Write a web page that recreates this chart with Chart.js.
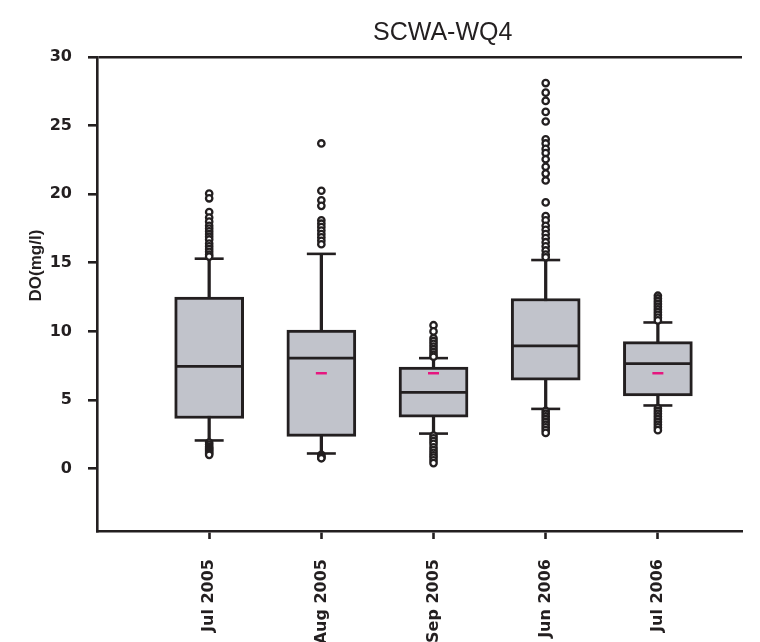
<!DOCTYPE html>
<html lang="en">
<head>
  <meta charset="UTF-8">
  <title>SCWA-WQ4</title>
  <script src="https://cdn.jsdelivr.net/npm/chart.js"></script>
  <style>
    body { margin: 0; background: #fff; }
    .chart-container { width: 760px; height: 642px; }
  </style>
</head>
<body>
<div class="chart-container">
  <canvas id="boxChart"></canvas>
</div>
<script>
  // Categories (sampling periods)
  const categories = ["Jul 2005", "Aug 2005", "Sep 2005", "Jun 2006", "Jul 2006"];
  const yTicks = [0, 5, 10, 15, 20, 25, 30];

  // Box statistics, DO in mg/l
  const q1 = [3.65, 2.35, 3.75, 6.45, 5.3];
  const medians = [7.45, 8.05, 5.55, 8.95, 7.65];
  const q3 = [12.5, 10.1, 7.4, 12.4, 9.25];
  const whiskerLow = [2.05, 1.1, 2.55, 4.35, 4.6];
  const whiskerHigh = [15.3, 15.65, 8.05, 15.2, 10.65];
  const means = [null, 6.95, 6.95, null, 6.95];

  // Outliers per category
  const outJul2005 = [20.05, 19.7, 18.7, 18.3, 18.0, 17.7, 17.5, 17.3, 17.1, 16.9, 16.7, 16.4, 16.2, 16.0, 15.8, 15.6, 15.45,
                      1.9, 1.75, 1.6, 1.5, 1.4, 1.3, 1.2, 1.1, 1.0];
  const outAug2005 = [23.7, 20.25, 19.55, 19.15, 18.1, 17.85, 17.6, 17.35, 17.1, 16.85, 16.6, 16.35,
                      1.0, 0.9, 0.8, 0.75];
  const outSep2005 = [10.45, 10.0, 9.5, 9.3, 9.1, 8.9, 8.7, 8.5, 8.3, 8.15,
                      2.4, 2.2, 2.0, 1.8, 1.55, 1.35, 1.15, 0.97, 0.8, 0.6, 0.4];
  const outJun2006 = [28.1, 27.4, 26.8, 26.0, 25.3, 24.0, 23.7, 23.3, 23.0, 22.55, 22.0, 21.5, 21.0, 19.4, 18.4, 18.1,
                      17.7, 17.4, 17.1, 16.8, 16.5, 16.2, 15.9, 15.6, 15.4,
                      4.2, 4.0, 3.8, 3.6, 3.4, 3.2, 3.0, 2.8, 2.6];
  const outJul2006 = [12.6, 12.4, 12.2, 12.0, 11.8, 11.6, 11.4, 11.2, 11.0, 10.8,
                      4.4, 4.2, 4.0, 3.8, 3.6, 3.4, 3.2, 3.0, 2.8];
  const outliers = [outJul2005, outAug2005, outSep2005, outJun2006, outJul2006];

  const dark = '#231f20';
  const boxFill = '#c1c3cb';
  const pink = '#e6167f';

  const pos = categories.map((c, i) => i + 1);
  const outlierPoints = [];
  outliers.forEach((list, i) => list.forEach(v => outlierPoints.push({ x: pos[i], y: v })));

  // chart title and y title sit off-centre in the original, so draw them by hand
  const titlesPlugin = {
    id: 'titles',
    afterDraw(chart) {
      const c = chart.ctx;
      const area = chart.chartArea;
      c.save();
      c.fillStyle = dark;
      c.textAlign = 'center';
      c.textBaseline = 'middle';
      c.font = '25px "Liberation Sans", Arial, sans-serif';
      c.fillText('SCWA-WQ4', area.left + (area.right - area.left) * 0.536, area.top - 24);
      c.translate(36, area.top + (area.bottom - area.top) * 0.44);
      c.rotate(-Math.PI / 2);
      c.font = 'bold 17px "Liberation Sans", Arial, sans-serif';
      c.fillText('DO(mg/l)', 0, 0);
      c.restore();
    }
  };

  const ctx = document.getElementById('boxChart').getContext('2d');
  const chart = new Chart(ctx, {
    type: 'scatter',
    data: {
      datasets: [
        {
          // outliers
          type: 'scatter',
          data: outlierPoints,
          pointStyle: 'circle',
          radius: 3.2,
          borderWidth: 2.3,
          borderColor: dark,
          backgroundColor: '#ffffff',
          order: 0
        },
        {
          // mean markers
          type: 'scatter',
          data: pos.map((x, i) => ({ x: x, y: means[i] })).filter(p => p.y !== null),
          pointStyle: 'line',
          radius: 5.5,
          borderWidth: 2.5,
          borderColor: pink,
          order: 1
        },
        {
          // medians
          type: 'scatter',
          data: pos.map((x, i) => ({ x: x, y: medians[i] })),
          pointStyle: 'line',
          radius: 33,
          borderWidth: 2.8,
          borderColor: dark,
          order: 2
        },
        {
          // whisker caps
          type: 'scatter',
          data: pos.map((x, i) => ({ x: x, y: whiskerLow[i] }))
                  .concat(pos.map((x, i) => ({ x: x, y: whiskerHigh[i] }))),
          pointStyle: 'line',
          radius: 14.5,
          borderWidth: 2.6,
          borderColor: dark,
          order: 3
        },
        {
          // boxes
          type: 'bar',
          data: pos.map((x, i) => ({ x: x, y: [q1[i], q3[i]] })),
          backgroundColor: boxFill,
          borderColor: dark,
          borderWidth: 3,
          borderSkipped: false,
          barThickness: 69,
          grouped: false,
          order: 4
        },
        {
          // whisker stems
          type: 'bar',
          data: pos.map((x, i) => ({ x: x, y: [whiskerLow[i], whiskerHigh[i]] })),
          backgroundColor: dark,
          borderWidth: 0,
          barThickness: 2.6,
          grouped: false,
          order: 5
        }
      ]
    },
    options: {
      responsive: true,
      maintainAspectRatio: false,
      animation: false,
      layout: { autoPadding: false, padding: { top: 57, right: 18, bottom: 0, left: 0 } },
      plugins: {
        legend: { display: false },
        tooltip: { enabled: false },
        title: { display: false }
      },
      scales: {
        x: {
          type: 'linear',
          min: 0,
          max: 5.75,
          offset: false,
          afterBuildTicks: axis => { axis.ticks = pos.map(v => ({ value: v })); },
          afterFit: axis => {
            axis.height = 111;
            axis.paddingLeft = 0;
            axis.paddingRight = 0;
          },
          ticks: {
            callback: v => categories[v - 1] || '',
            minRotation: 90,
            maxRotation: 90,
            padding: 20,
            color: dark,
            font: { family: 'DejaVu Sans', size: 16, weight: 'bold' }
          },
          grid: {
            drawOnChartArea: false,
            offset: false,
            tickLength: 8,
            tickColor: dark,
            tickWidth: 2.6
          },
          border: { display: true, color: dark, width: 2.6 }
        },
        y: {
          type: 'linear',
          min: -4.55,
          max: 30,
          afterBuildTicks: axis => { axis.ticks = yTicks.map(v => ({ value: v })); },
          afterFit: axis => { axis.width = 97; },
          ticks: {
            padding: 16,
            color: dark,
            font: { family: 'DejaVu Sans', size: 16, weight: 'bold' }
          },
          grid: {
            color: c => (c.tick && c.tick.value === 30) ? dark : 'rgba(0,0,0,0)',
            lineWidth: 2.6,
            tickLength: 9,
            tickColor: dark,
            tickWidth: 2.6
          },
          border: { display: true, color: dark, width: 2.6 }
        }
      }
    },
    plugins: [titlesPlugin]
  });
</script>
</body>
</html>
